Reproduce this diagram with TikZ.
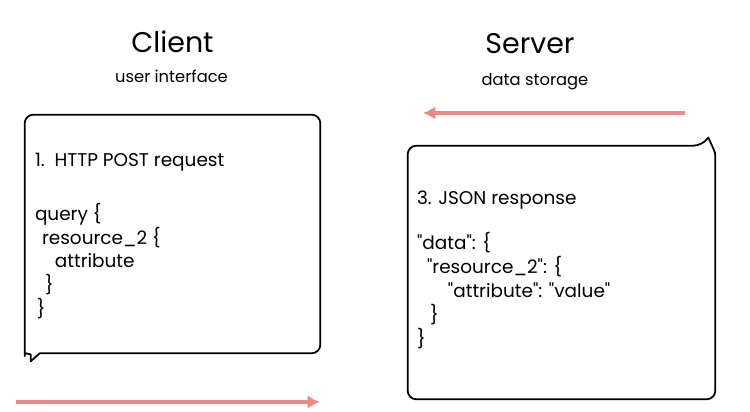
\documentclass[tikz,border=0pt]{standalone}
\usepackage{fontspec}
\setmainfont{Poppins}[Ligatures=TeXOff]
\usetikzlibrary{arrows.meta, calc, positioning}
\definecolor{flowred}{RGB}{238,136,136}

\begin{document}
\begin{tikzpicture}[
	title/.style={font=\fontsize{16.2}{19}\selectfont},
	subtitle/.style={font=\fontsize{9.3}{11}\selectfont},
	bubble/.style={line width=1pt, line join=round},
	msg/.style={align=left, inner sep=0pt, font=\fontsize{10.5}{13.6}\selectfont},
	flow/.style={flowred, line width=1.8pt, -{Latex[length=7pt,width=7.5pt]}}
	]
			\useasboundingbox (0,0) rectangle (15,-8.24);
			\node(client) at (3.45,-0.84)  [title] {Client};
			\node(clientsub) at (3.43,-1.52)  [subtitle] {user interface};
			\node(server) at (10.6,-0.88)  [title] {Server};
			\node(serversub) at (10.7,-1.64)  [subtitle] {data storage};
			
			\node(cbox) [minimum width=5.9cm, minimum height=4.76cm, inner sep=0pt] at (3.45,-4.68)  {};
			\node(sbox) [minimum width=6.14cm, minimum height=5.06cm, inner sep=0pt] at (11.23,-5.45)  {};
			
			% speech bubbles
			\draw[bubble] ($(cbox.south west)+(0.12,-0.16)$) -- ($(cbox.south west)+(0.3,0)$) [rounded corners=5pt] -- (cbox.south east) -- (cbox.north east) -- (cbox.north west) -- ($(cbox.south west)+(0,0.12)$) [sharp corners] to[out=-90,in=180] ($(cbox.south west)+(0.12,-0.02)$) -- cycle;
			\draw[bubble] ($(sbox.north east)+(-0.14,0.16)$) -- ($(sbox.north east)+(-0.04,-0.06)$) to[out=-60,in=90] ($(sbox.north east)+(0,-0.22)$) [rounded corners=5pt] -- (sbox.south east) -- (sbox.south west) -- (sbox.north west) -- ($(sbox.north east)+(-0.26,0)$) [sharp corners] -- cycle;
			
			\node(creq) [msg, below right=0.76cm and 0.2cm of cbox.north west] {1.\ \ HTTP POST request\\[17pt]
			query \{\\
			\hspace*{4pt}resource\_2 \{\\
			\hspace*{11.3pt}attribute\\
			\hspace*{5.7pt}\}\\
			\hspace*{1pt}\}};
			\node(sres) [msg, below right=0.9cm and 0.18cm of sbox.north west] {3. JSON response\\[12pt]
			"data": \{\\
			\hspace*{5.7pt}"resource\_2": \{\\
			\hspace*{17.6pt}"attribute": "value"\\
			\hspace*{7.4pt}\}\\
			\}};
			
			\coordinate(r1) at (13.7,-2.26);
			\coordinate(r2) at (8.46,-2.26);
			\coordinate(q1) at (0.32,-8.04);
			\coordinate(q2) at (6.4,-8.04);
			\draw[flow] (r1) -- (r2);
			\draw[flow] (q1) -- (q2);
		\end{tikzpicture}
\end{document}
